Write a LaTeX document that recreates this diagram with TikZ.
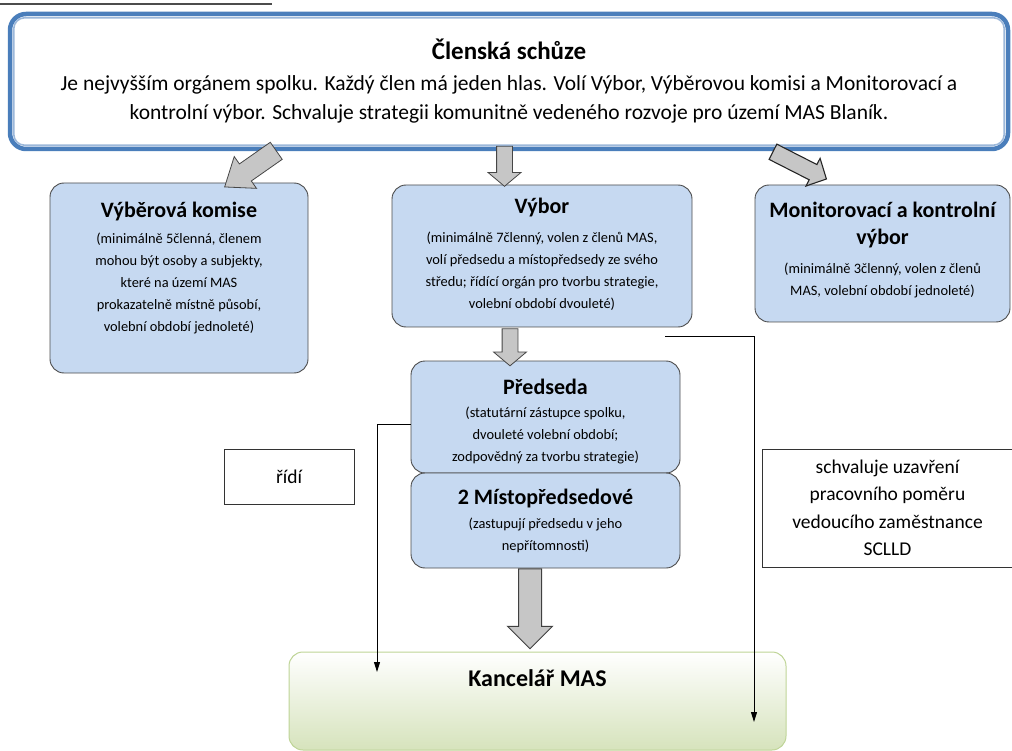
\documentclass[tikz,border=0pt]{standalone}
\usepackage{fontspec}
\setmainfont{Carlito}
\usetikzlibrary{positioning,shapes.arrows,arrows.meta}

\definecolor{boxblue}{RGB}{198,217,241}
\definecolor{topblue}{RGB}{74,126,187}
\definecolor{kgreen}{RGB}{214,227,188}
\definecolor{kgreenline}{RGB}{190,212,150}

\newcommand{\boxhead}[1]{{\fontsize{22}{26}\selectfont\bfseries #1}}

\begin{document}
\begin{tikzpicture}[x=1pt, y=1pt,
        bluebox/.style={draw=black!70, fill=boxblue, rounded corners=14pt, line width=0.9pt},
        boxtext/.style={align=center, inner sep=0pt, font=\fontsize{14.4}{22}\selectfont},
        topbox/.style={draw=topblue, line width=4.5pt, rounded corners=16pt, fill=white, align=center, font=\fontsize{21.5}{29}\selectfont},
        plainbox/.style={draw=black!80, line width=0.8pt, align=center, font=\fontsize{19.5}{27.5}\selectfont},
        fatarrow/.style n args={3}{single arrow, inner xsep=0pt, inner ysep=#1, text height=0pt, text depth=0pt,
            single arrow head extend=#2, minimum height=#3, draw=gray!55!black, fill=gray!45, line width=0.8pt},
        thinarrow/.style={-{Triangle[width=6pt,length=10pt]}, line width=0.9pt}
    ]
    \useasboundingbox (0,0) rectangle (1012,-751);
    \draw[gray!60!black, line width=1.5pt] (0,-4) -- (272,-4);

    % Clenska schuze
    \node[topbox, minimum width=998pt, minimum height=135pt] (clenska) at (509,-81.5)
        {{\fontsize{25}{29}\selectfont\bfseries Členská schůze}\\[2pt]
         Je nejvyšším orgánem spolku. Každý člen má jeden hlas. Volí Výbor, Výběrovou komisi a Monitorovací a\\
         kontrolní výbor. Schvaluje strategii komunitně vedeného rozvoje pro území MAS Blaník.};
    \draw[topblue!55, line width=1.6pt, rounded corners=11pt]
        ([shift={(6pt,-6pt)}]clenska.north west) rectangle ([shift={(-6pt,6pt)}]clenska.south east);

    % organy
    \node[bluebox, minimum width=258pt, minimum height=190pt] (vyberova) at (179,-278) {};
    \node[boxtext, below=19pt of vyberova.north] (vyberovatxt)
        {\boxhead{Výběrová komise}\\[4pt]
         (minimálně 5členná, členem\\ mohou být osoby a subjekty,\\ které na území MAS\\
         prokazatelně místně působí,\\ volební období jednoleté)};

    \node[bluebox, minimum width=300pt, minimum height=142pt] (vybor) at (542,-256) {};
    \node[boxtext, below=13pt of vybor.north] (vybortxt)
        {\boxhead{Výbor}\\[7pt]
         (minimálně 7členný, volen z členů MAS,\\ volí předsedu a místopředsedy ze svého\\
         středu; řídící orgán pro tvorbu strategie,\\ volební období dvouleté)};

    \node[bluebox, minimum width=255pt, minimum height=137pt] (monitor) at (882.5,-253.5) {};
    \node[boxtext, below=17pt of monitor.north] (monitortxt)
        {\boxhead{Monitorovací a kontrolní}\\[5pt] \boxhead{výbor}\\[7pt]
         (minimálně 3členný, volen z členů\\ MAS, volební období jednoleté)};

    \node[bluebox, minimum width=269pt, minimum height=112pt] (predseda) at (545.5,-417) {};
    \node[boxtext, below=18pt of predseda.north] (predsedatxt)
        {\boxhead{Předseda}\\[1pt]
         (statutární zástupce spolku,\\ dvouleté volební období;\\ zodpovědný za tvorbu strategie)};

    \node[bluebox, minimum width=269pt, minimum height=95pt] (mistopred) at (545.5,-520.5) {};
    \node[boxtext, below=16pt of mistopred.north] (mistopredtxt)
        {\boxhead{2 Místopředsedové}\\[2pt]
         (zastupují předsedu v jeho\\ nepřítomnosti)};

    \node[draw=kgreenline, line width=1pt, rounded corners=14pt, top color=white, bottom color=kgreen,
        minimum width=497pt, minimum height=98pt] (kancelar) at (537.5,-701) {};
    \node[boxtext, below=18pt of kancelar.north, font=\fontsize{24}{28}\selectfont\bfseries] (kancelartxt) {Kancelář MAS};

    \node[plainbox, minimum width=130pt, minimum height=55pt] (ridi) at (289,-476.5) {řídí};
    \node[plainbox, minimum width=251pt, minimum height=118pt] (schvaluje) at (887.5,-508)
        {schvaluje uzavření\\ pracovního poměru\\ vedoucího zaměstnance\\ SCLLD};

    % sipky
    \node[fatarrow={10pt}{9pt}{63pt}, single arrow tip angle=75, rotate=215] (a1) at (256,-165) {};
    \node[fatarrow={7.5pt}{8.5pt}{40pt}, single arrow tip angle=100, rotate=-90] (a2) at (504.5,-163) {};
    \node[fatarrow={8pt}{7pt}{60pt}, single arrow tip angle=92, rotate=-27, draw=black!85, line width=1.1pt] (a3) at (796,-163.5) {};
    \node[fatarrow={7.5pt}{8.5pt}{37pt}, single arrow tip angle=100, rotate=-90] (a4) at (510,-344) {};
    \node[fatarrow={11pt}{11pt}{80pt}, single arrow tip angle=90, rotate=-90, draw=black!75, line width=1pt] (a5) at (530,-603) {};

    \coordinate (ridiend) at (377,-672);
    \draw[thinarrow] ([yshift=-7pt]predseda.west) -| (ridiend);
    \coordinate (schvend) at (754,-722);
    \draw[thinarrow] ([xshift=-27pt,yshift=-9pt]vybor.south east) -| (schvend);
\end{tikzpicture}
\end{document}
